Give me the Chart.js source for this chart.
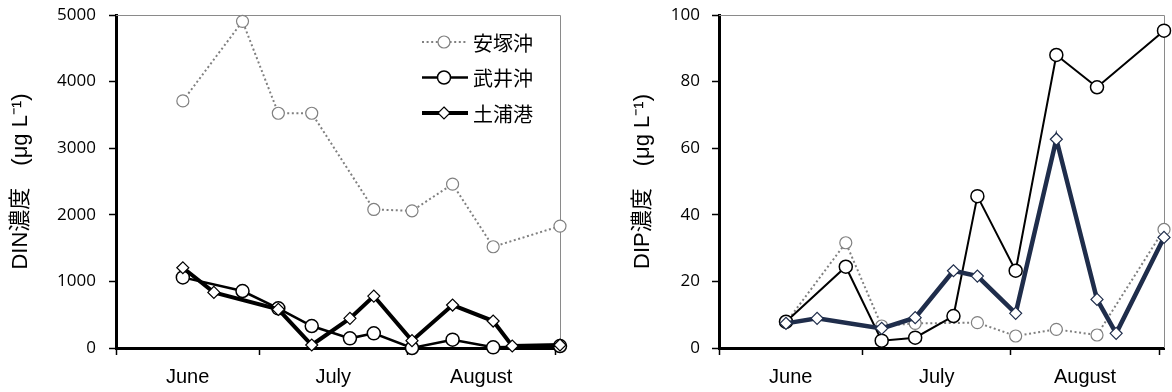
<!DOCTYPE html>
<html><head><meta charset="utf-8">
<script src="https://cdn.jsdelivr.net/npm/chart.js@4.4.1/dist/chart.umd.min.js"></script>
<style>
html,body{margin:0;padding:0;background:#fff;}
#wrap{position:relative;width:1172px;height:392px;overflow:hidden;background:#fff;}
canvas{position:absolute;top:0;}
</style></head><body>
<div id="wrap">
<canvas id="din" width="586" height="392" style="left:0px"></canvas>
<canvas id="dip" width="586" height="392" style="left:586px"></canvas>
</div>
<script>
// ---------- data ----------
const seriesNames = ['安塚沖', '武井沖', '土浦港'];
const monthLabels = ['June', 'July', 'August'];
const monthBoundaryDays = [0, 30, 61, 92];   // day offsets from June 1
const axisMaxDay = 93;
const dinTickValues = [0, 1000, 2000, 3000, 4000, 5000];
const dipTickValues = [0, 20, 40, 60, 80, 100];

// sampling days (days since June 1)
const anzukaDays     = [14, 26.5, 34, 41, 54, 62, 70.5, 79, 93];
const takeiDays      = [14, 26.5, 34, 41, 49, 54, 62, 70.5, 79, 93];
const tsuchiuraDays  = [14, 20.5, 34, 41, 49, 54, 62, 70.5, 79, 83, 93];

// DIN (µg/L)
const anzukaDIN    = [3710, 4905, 3525, 3525, 2080, 2060, 2460, 1520, 1830];
const takeiDIN     = [1060, 855, 595, 330, 145, 220, 0, 125, 10, 30];
const tsuchiuraDIN = [1205, 835, 580, 45, 445, 780, 110, 645, 405, 30, 45];

// DIP (µg/L)
const anzukaDIP    = [7.6, 31.6, 6.6, 7.4, 7.6, 3.6, 5.6, 3.9, 35.6];
const takeiDIP     = [7.9, 24.4, 2.2, 3.1, 9.6, 45.6, 23.2, 88, 78.3, 95.3];
const tsuchiuraDIP = [7.4, 8.9, 5.9, 9.1, 23.2, 21.6, 10.4, 62.7, 14.6, 4.4, 33.2];

// ---------- helpers ----------
const pts = (days, vals) => days.map((d, i) => ({x: d, y: vals[i]}));
const monthMids = monthLabels.map((m, i) => (monthBoundaryDays[i] + monthBoundaryDays[i + 1]) / 2);

const frameBorder = {
  id: 'frameBorder',
  beforeDatasetsDraw(chart) {
    const {ctx, chartArea: a} = chart;
    ctx.save();
    ctx.strokeStyle = '#8a8a8a';
    ctx.lineWidth = 1;
    ctx.beginPath();
    ctx.moveTo(a.left, a.top + 0.5);
    ctx.lineTo(a.right + 0.5, a.top + 0.5);
    ctx.lineTo(a.right + 0.5, a.bottom);
    ctx.stroke();
    ctx.restore();
  }
};

function drawMarker(ctx, style, x, y, r) {
  ctx.beginPath();
  if (style === 'rectRot') {
    ctx.moveTo(x, y - r); ctx.lineTo(x + r, y); ctx.lineTo(x, y + r); ctx.lineTo(x - r, y); ctx.closePath();
  } else {
    ctx.arc(x, y, r, 0, Math.PI * 2);
  }
  ctx.fill(); ctx.stroke();
}

const customLegend = {
  id: 'customLegend',
  afterDraw(chart, args, opts) {
    if (!opts.show) return;
    const ctx = chart.ctx;
    chart.data.datasets.forEach((ds, i) => {
      const y = opts.rowY[i];
      ctx.save();
      ctx.strokeStyle = ds.borderColor;
      ctx.lineWidth = ds.borderWidth;
      ctx.setLineDash(ds.borderDash || []);
      ctx.beginPath();
      ctx.moveTo(opts.x1, y); ctx.lineTo(opts.x2, y);
      ctx.stroke();
      ctx.setLineDash([]);
      ctx.fillStyle = ds.pointBackgroundColor;
      ctx.strokeStyle = ds.pointBorderColor;
      ctx.lineWidth = ds.pointBorderWidth;
      drawMarker(ctx, ds.pointStyle, opts.mx, y, opts.mr[i]);
      ctx.fillStyle = '#000';
      ctx.font = '20px "Noto Sans CJK JP"';
      ctx.textBaseline = 'middle';
      ctx.textAlign = 'left';
      ctx.fillText(ds.label, opts.tx, y + 1);
      ctx.restore();
    });
  }
};

function makeChart(id, cfg) {
  const datasets = [
    { label: seriesNames[0], data: pts(anzukaDays, cfg.v[0]), borderColor: '#808080', borderWidth: 2, borderDash: [2, 2.6],
      pointStyle: 'circle', pointRadius: 6, pointBackgroundColor: '#fff', pointBorderColor: '#808080', pointBorderWidth: 1.2, order: 2 },
    { label: seriesNames[1], data: pts(takeiDays, cfg.v[1]), borderColor: '#000', borderWidth: cfg.w1,
      pointStyle: 'circle', pointRadius: 6.5, pointBackgroundColor: '#fff', pointBorderColor: '#000', pointBorderWidth: 1.5, order: 1 },
    { label: seriesNames[2], data: pts(tsuchiuraDays, cfg.v[2]), borderColor: cfg.c2, borderWidth: cfg.w2,
      pointStyle: 'rectRot', pointRadius: 6, pointBackgroundColor: '#fff', pointBorderColor: cfg.c2, pointBorderWidth: 1.2, order: 0 }
  ];
  return new Chart(document.getElementById(id), {
    type: 'line',
    data: { datasets },
    options: {
      responsive: false, animation: false, devicePixelRatio: 1,
      layout: { padding: { left: cfg.padLeft, right: cfg.padRight, top: 15, bottom: 0 } },
      plugins: { legend: { display: false }, tooltip: { enabled: false },
        customLegend: { show: cfg.legend, x1: 422, x2: 468, mx: 444, tx: 473, rowY: [42, 77.5, 113], mr: [6, 6.5, 6] } },
      elements: { line: { tension: 0 } },
      datasets: { line: { clip: false } },
      scales: {
        x: {
          type: 'linear', min: 0, max: axisMaxDay,
          afterBuildTicks: s => { s.ticks = [...monthBoundaryDays, ...monthMids].sort((a, b) => a - b).map(v => ({value: v})); },
          afterFit: s => { s.height = 44; s.paddingLeft = 0; s.paddingRight = 0; },
          ticks: {
            autoSkip: false, maxRotation: 0, padding: 10, color: '#000',
            font: { family: '"Liberation Sans", Arial', size: 20 },
            callback: v => { const k = monthMids.indexOf(v); return k >= 0 ? monthLabels[k] : ''; }
          },
          grid: { drawOnChartArea: false, tickLength: 7, tickWidth: 1.5,
            tickColor: c => (c.tick && monthBoundaryDays.includes(c.tick.value)) ? '#000' : 'rgba(0,0,0,0)' },
          border: { color: '#000', width: 3 }
        },
        y: {
          min: cfg.ticks[0], max: cfg.ticks[cfg.ticks.length - 1],
          afterBuildTicks: s => { s.ticks = cfg.ticks.map(v => ({value: v})); },
          afterFit: s => { s.width = cfg.yWidth; s.paddingTop = 0; s.paddingBottom = 0; },
          ticks: { padding: cfg.tickPad, color: '#000', font: { family: '"Open Sans"', size: 17 },
            callback: v => String(v) },
          grid: { drawOnChartArea: false, tickLength: 7, tickWidth: 1.5, tickColor: '#000' },
          border: { color: '#000', width: 3 },
          title: { display: true, text: cfg.title, color: '#000', padding: { top: 8, bottom: 0 },
            font: { family: '"Liberation Sans", Arial, "Noto Sans CJK JP"', size: 22 } }
        }
      }
    },
    plugins: [frameBorder, customLegend]
  });
}

makeChart('din', { v: [anzukaDIN, takeiDIN, tsuchiuraDIN], w1: 2.5, w2: 4, c2: '#000', ticks: dinTickValues,
  padLeft: 0, padRight: 26, yWidth: 116, tickPad: 13, legend: true, title: 'DIN濃度　(μg L⁻¹)' });
makeChart('dip', { v: [anzukaDIP, takeiDIP, tsuchiuraDIP], w1: 2, w2: 4.5, c2: '#1f2d4b', ticks: dipTickValues,
  padLeft: 36, padRight: 7, yWidth: 97, tickPad: 12, legend: false, title: 'DIP濃度　(μg L⁻¹)' });
</script>
</body></html>
